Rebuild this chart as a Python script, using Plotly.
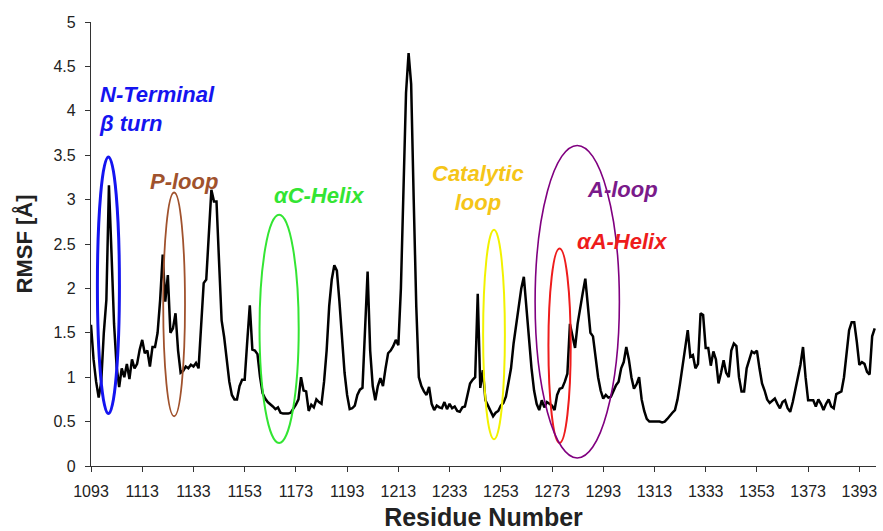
import plotly.graph_objects as go

residue_start = 1093
rmsf = [
    1.59, 1.2, 0.95, 0.77, 0.95, 1.5, 1.87, 3.16, 2.4, 1.6,
    1.12, 0.89, 1.1, 1.0, 1.15, 0.98, 1.2, 1.1, 1.15, 1.31,
    1.42, 1.27, 1.3, 1.12, 1.34, 1.34, 1.5, 1.87, 2.38, 1.85,
    2.15, 1.5, 1.55, 1.72, 1.3, 1.05, 1.07, 1.12, 1.1, 1.14,
    1.12, 1.16, 1.1, 1.6, 2.06, 2.1, 2.6, 3.11, 2.98, 2.98,
    2.3, 1.64, 1.45, 1.19, 0.95, 0.8, 0.75, 0.75, 0.9, 0.97,
    0.97, 1.4, 1.81, 1.31, 1.3, 1.26, 1.0, 0.82, 0.76, 0.72,
    0.7, 0.67, 0.64, 0.66, 0.6, 0.59, 0.59, 0.59, 0.6, 0.64,
    0.69, 0.75, 1.0, 0.85, 0.84, 0.62, 0.69, 0.66, 0.75, 0.72,
    0.7, 0.95, 1.3, 1.8, 2.1, 2.26, 2.2, 1.85, 1.4, 1.05,
    0.8, 0.64, 0.65, 0.68, 0.8, 0.86, 0.88, 1.5, 2.19, 1.3,
    0.9, 0.74, 0.9, 0.99, 0.9, 1.1, 1.27, 1.3, 1.35, 1.42,
    1.36, 2.0, 3.2, 4.2, 4.65, 4.3, 3.0, 1.8, 1.0, 0.9,
    0.84, 0.8, 0.89, 0.7, 0.63, 0.68, 0.66, 0.65, 0.72, 0.64,
    0.7, 0.65, 0.67, 0.62, 0.61, 0.66, 0.67, 0.8, 0.93, 0.97,
    1.0, 1.94, 0.88, 1.08, 0.74, 0.68, 0.62, 0.56, 0.6, 0.62,
    0.68, 0.71, 0.78, 0.93, 1.1, 1.38, 1.6, 1.83, 2.0, 2.13,
    1.8, 1.4, 1.1, 0.85, 0.7, 0.63, 0.74, 0.66, 0.72, 0.7,
    0.68, 0.63, 0.8, 0.87, 0.88, 0.95, 1.04, 1.6, 1.45, 1.33,
    1.6, 1.8, 1.95, 2.11, 1.8, 1.5, 1.46, 1.2, 1.0, 0.85,
    0.76, 0.8, 0.77, 0.78, 0.85, 0.91, 0.95, 1.1, 1.17, 1.34,
    1.2, 1.0, 0.87, 0.92, 1.0, 0.75, 0.62, 0.53, 0.5, 0.5,
    0.5, 0.5, 0.5, 0.49, 0.5, 0.53, 0.57, 0.6, 0.63, 0.75,
    0.93, 1.15, 1.35, 1.53, 1.23, 1.25, 1.1, 1.15, 1.72, 1.7,
    1.33, 1.33, 1.13, 1.29, 1.2, 0.93, 1.05, 1.19, 1.05, 1.0,
    1.3, 1.38, 1.35, 1.0, 0.84, 0.84, 1.1, 1.2, 1.29, 1.27,
    1.3, 1.1, 0.93, 0.85, 0.75, 0.71, 0.73, 0.76, 0.7, 0.65,
    0.72, 0.74, 0.65, 0.61, 0.72, 0.88, 1.0, 1.14, 1.34, 1.0,
    0.74, 0.74, 0.74, 0.67, 0.75, 0.7, 0.63, 0.7, 0.75, 0.67,
    0.65, 0.81, 0.83, 0.84, 1.0, 1.31, 1.53, 1.62, 1.62, 1.4,
    1.14, 1.17, 1.15, 1.06, 1.03, 1.46, 1.55,
]
residues = list(range(residue_start, residue_start + len(rmsf)))
x_tick_labels = list(range(1093, 1394, 20))
y_tick_values = [0, 0.5, 1, 1.5, 2, 2.5, 3, 3.5, 4, 4.5, 5]

# Highlighted regions: residue span, RMSF span, colour
region_names = ["N-Terminal β turn", "P-loop", "αC-Helix", "Catalytic loop", "αA-Helix", "A-loop"]
region_x0 = [1095.5, 1121.2, 1158.8, 1246.1, 1271.6, 1266.4]
region_x1 = [1104.1, 1129.7, 1174.1, 1254.6, 1280.3, 1299.3]
region_y0 = [0.59, 0.56, 0.26, 0.30, 0.26, 0.09]
region_y1 = [3.48, 3.08, 2.83, 2.66, 2.45, 3.61]
region_colors = ["#1414f0", "#a0522d", "#33e533", "#f2f200", "#ee1c1c", "#800080"]
region_widths = [3, 1.8, 2, 2, 2, 1.6]

# Labels
label_texts = ["N-Terminal<br>β turn", "P-loop", "αC-Helix", "Catalytic<br>loop", "A-loop", "αA-Helix"]
label_x = [1095.4, 1129.2, 1182.0, 1244.2, 1300.4, 1300.3]
label_y = [4.02, 3.2, 3.05, 3.13, 3.11, 2.53]
label_anchor = ["left", "center", "center", "center", "center", "center"]
label_colors = ["#1414f0", "#a0522d", "#33e533", "#f5c518", "#7a1a8a", "#ee1c1c"]

fig = go.Figure()
fig.add_trace(go.Scatter(
    x=residues, y=rmsf, mode="lines",
    line=dict(color="black", width=2.5),
    showlegend=False, hoverinfo="x+y",
))

for x0, x1, y0, y1, c, w in zip(region_x0, region_x1, region_y0, region_y1, region_colors, region_widths):
    fig.add_shape(type="circle", xref="x", yref="y", x0=x0, x1=x1, y0=y0, y1=y1,
                  line=dict(color=c, width=w), fillcolor="rgba(0,0,0,0)")

for t, x, y, a, c in zip(label_texts, label_x, label_y, label_anchor, label_colors):
    fig.add_annotation(x=x, y=y, xref="x", yref="y", text="<b><i>" + t + "</i></b>",
                       showarrow=False, xanchor=a, yanchor="middle", align=a,
                       font=dict(family="Liberation Sans, Arial, sans-serif", size=22, color=c))

fig.update_layout(
    width=883, height=531,
    margin=dict(l=91, r=7, t=22, b=65),
    paper_bgcolor="white", plot_bgcolor="white",
    font=dict(family="Liberation Sans, Arial, sans-serif", color="#222222"),
)
fig.update_xaxes(
    range=[1093, 1399.5], tickmode="array", tickvals=x_tick_labels,
    ticktext=[str(v) for v in x_tick_labels],
    showline=True, linecolor="#333333", linewidth=1.2,
    ticks="outside", ticklen=5, tickcolor="#333333",
    showgrid=False, zeroline=False, automargin=False,
    ticklabelstandoff=6,
    tickfont=dict(size=16, color="#222222"),
    title=dict(text="<b>Residue Number</b>", font=dict(size=25, color="#222222"), standoff=10),
)
fig.update_yaxes(
    range=[0, 5], tickmode="array", tickvals=y_tick_values,
    ticktext=[("%g" % v) for v in y_tick_values],
    showline=True, linecolor="#333333", linewidth=1.2,
    ticks="outside", ticklen=5, tickcolor="#333333",
    showgrid=False, zeroline=False, automargin=False,
    ticklabelstandoff=6,
    tickfont=dict(size=16, color="#222222"),
    title=dict(text="<b>RMSF [Å]</b>", font=dict(size=22, color="#222222"), standoff=14),
)

fig.write_html("out.html", config={"displayModeBar": False},
               post_script="document.body.style.margin='0';document.body.style.overflow='hidden';")
